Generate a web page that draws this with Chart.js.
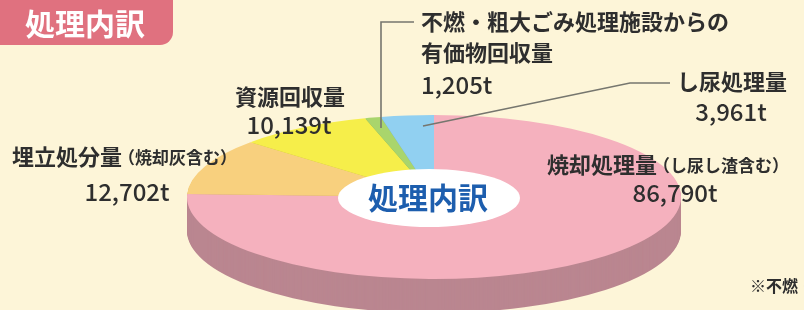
<!DOCTYPE html>
<html><head><meta charset="utf-8">
<script src="https://cdn.jsdelivr.net/npm/chart.js@4"></script>
<style>html,body{margin:0;padding:0;background:#fdf5d8;overflow:hidden}#wrap{position:relative;width:804px;height:310px}canvas{display:block}</style>
</head><body><div id="wrap"><canvas id="c" width="804" height="310"></canvas></div>
<script>
// ---- data ----
const categories = ['焼却処理量', '埋立処分量', '資源回収量', '不燃・粗大ごみ処理施設からの\n有価物回収量', 'し尿処理量'];
const notes = ['（し尿し渣含む）', '（焼却灰含む）', '', '', ''];
const values = [86790, 12702, 10139, 1205, 3961];
const valueLabels = ['86,790t', '12,702t', '10,139t', '1,205t', '3,961t'];
const titleText = '処理内訳';
const centerText = '処理内訳';
const footnote = '※不燃・粗大ごみ処理施設';

// ---- styles ----
const topColors = ['#f5b1be', '#f8d07e', '#f6ee4a', '#a9d56c', '#91d0f1'];
const sideColors = ['#ba8690', '#c9a660', '#c4bd3a', '#86aa55', '#73a6c0'];
const FONT = '"Noto Sans CJK JP", "Noto Sans", sans-serif';
const SX = 247 / 82;   // horizontal stretch for elliptical pie
const DEPTH = 34;

const pie3d = {
  id: 'pie3d',
  beforeDatasetsDraw(chart) {
    const ctx = chart.ctx;
    const meta = chart.getDatasetMeta(0);
    const cx = meta.data[0].x, cy = meta.data[0].y;
    for (let d = DEPTH; d >= 1; d--) {
      ctx.save();
      ctx.translate(cx, cy + d); ctx.scale(SX, 1); ctx.translate(-cx, -cy);
      meta.data.forEach((arc, i) => {
        const saved = arc.options;
        arc.options = Object.assign({}, saved, { backgroundColor: sideColors[i], borderWidth: 0 });
        arc.draw(ctx);
        arc.options = saved;
      });
      ctx.restore();
    }
    ctx.save();
    ctx.translate(cx, cy); ctx.scale(SX, 1); ctx.translate(-cx, -cy);
  },
  afterDatasetsDraw(chart) { chart.ctx.restore(); }
};

const labelLayout = [
  { name: [547, 165], align: 'left', val: [675, 193] },
  { name: [12, 157], align: 'left', val: [127, 192] },
  { name: [290, 97], align: 'center', val: [289, 125] },
  { name: [421, 22], align: 'left', val: [421, 85], lh: 31 },
  { name: [732, 82], align: 'center', val: [731, 112] }
];

const decor = {
  id: 'decor',
  afterDraw(chart) {
    const ctx = chart.ctx;
    const meta = chart.getDatasetMeta(0);
    const cx = meta.data[0].x, cy = meta.data[0].y;
    ctx.save();
    // title badge
    ctx.fillStyle = '#e0717f';
    ctx.beginPath();
    ctx.roundRect(-14, -14, 187, 59, 13);
    ctx.fill();
    ctx.fillStyle = '#ffffff';
    ctx.font = 'bold 30px ' + FONT;
    ctx.textAlign = 'center'; ctx.textBaseline = 'middle';
    ctx.fillText(titleText, 85, 24);

    // center ellipse
    ctx.fillStyle = '#ffffff';
    ctx.beginPath();
    ctx.ellipse(cx - 5, cy + 1, 91, 29, 0, 0, Math.PI * 2);
    ctx.fill();
    ctx.fillStyle = '#1d5eae';
    ctx.font = 'bold 30px ' + FONT;
    ctx.fillText(centerText, cx - 6, cy + 1);

    // leader lines
    ctx.strokeStyle = '#76766e';
    ctx.lineWidth = 1.6;
    ctx.beginPath();
    ctx.moveTo(381, 128); ctx.lineTo(381, 22); ctx.lineTo(414, 22);
    ctx.stroke();
    ctx.beginPath();
    ctx.moveTo(423, 126); ctx.lineTo(630, 83); ctx.lineTo(670, 83);
    ctx.stroke();

    // labels
    ctx.fillStyle = '#2e2e2e';
    ctx.textBaseline = 'middle';
    categories.forEach((cat, i) => {
      const L = labelLayout[i];
      const lines = cat.split('\n');
      ctx.font = 'bold 22px ' + FONT;
      ctx.textAlign = L.align;
      lines.forEach((ln, k) => ctx.fillText(ln, L.name[0], L.name[1] + k * (L.lh || 0)));
      if (notes[i]) {
        const w = ctx.measureText(lines[0]).width;
        ctx.font = 'bold 17px ' + FONT;
        ctx.textAlign = 'left';
        ctx.fillText(notes[i], L.name[0] + w - 4, L.name[1] + 1);
      }
      ctx.font = '500 24px ' + FONT;
      ctx.textAlign = i === 3 ? 'left' : 'center';
      ctx.fillText(valueLabels[i], L.val[0], L.val[1]);
    });

    // footnote
    ctx.font = 'bold 16px ' + FONT;
    ctx.textAlign = 'left';
    ctx.fillText(footnote, 750, 286);
    ctx.restore();
  }
};

new Chart(document.getElementById('c'), {
  type: 'pie',
  data: {
    labels: categories,
    datasets: [{ data: values, backgroundColor: topColors, borderWidth: 0, hoverOffset: 0 }]
  },
  options: {
    responsive: false,
    animation: false,
    events: [],
    layout: { padding: { left: 352, right: 288, top: 115, bottom: 31 } },
    plugins: { legend: { display: false }, tooltip: { enabled: false }, title: { display: false } }
  },
  plugins: [pie3d, decor]
});
</script>
</body></html>
